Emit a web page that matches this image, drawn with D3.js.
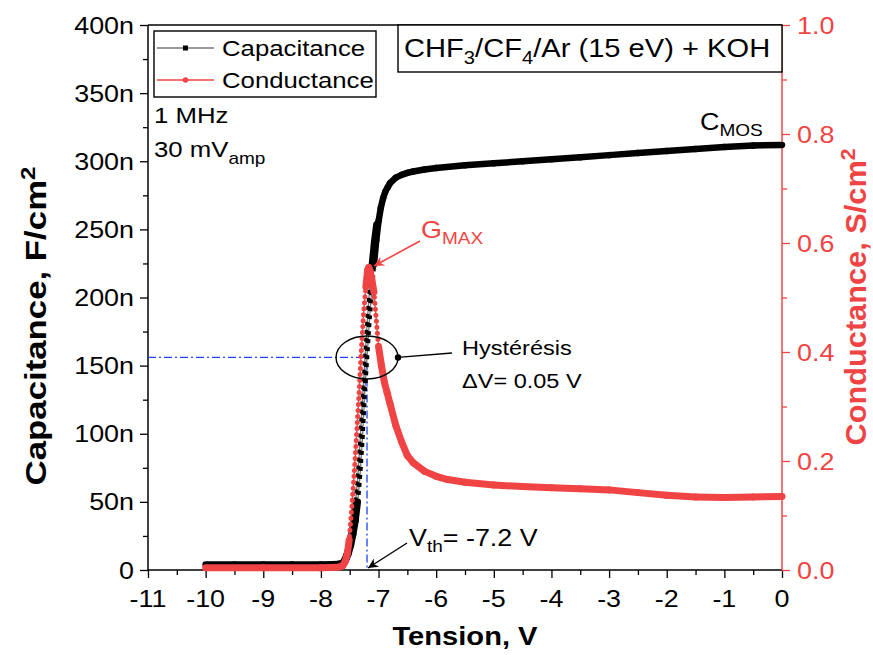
<!DOCTYPE html>
<html><head><meta charset="utf-8">
<script src="https://cdn.jsdelivr.net/npm/d3@7"></script>
<style>body{margin:0;background:#fff}svg{display:block}text{font-family:"Liberation Sans",Arial,sans-serif}</style>
</head><body>
<svg id="c" width="873" height="655"></svg>
<script>
// ---- data ----
const capV = [-10,-9.5,-9,-8.5,-8,-7.8,-7.7,-7.64,-7.6,-7.56,-7.52,-7.48,-7.44,-7.40,-7.36,-7.32,-7.28,-7.24,-7.20,-7.16,-7.12,-7.08,-7.04,-7.00,-6.96,-6.92,-6.88,-6.84,-6.8,-6.7,-6.6,-6.5,-6.4,-6.2,-6.0,-5.5,-5.0,-4.5,-4.0,-3.5,-3.0,-2.5,-2.0,-1.5,-1.0,-0.5,0];
const capC = [4,4,4,4,4,4.2,4.5,5,6,8,12,18,26,36,50,70,96,130,156,182,204,224,242,256,266,273,278,281,284,288,290,291.5,292.5,294,295,297,298.5,300,301.5,303,304.5,306,307.5,309,310.5,311.5,312];
const capRevV = [-7.64,-7.6,-7.56,-7.52,-7.48,-7.44,-7.40,-7.36,-7.32,-7.28,-7.24,-7.20,-7.16,-7.12,-7.08,-7.04];
const capRevC = [5,7,11,17,25,35,49,69,95,125,152,180,204,224,241,254];
const condV = [-10,-9,-8,-7.7,-7.62,-7.58,-7.54,-7.51,-7.46,-7.42,-7.38,-7.34,-7.30,-7.26,-7.22,-7.19,-7.17,-7.15,-7.12,-7.08,-7.04,-7.00,-6.95,-6.9,-6.85,-6.8,-6.7,-6.6,-6.5,-6.4,-6.2,-6.0,-5.8,-5.5,-5.0,-4.5,-4.0,-3.5,-3.0,-2.5,-2.0,-1.5,-1.0,-0.5,0];
const condG = [.004,.004,.004,.005,.008,.015,.03,.055,.12,.18,.25,.32,.40,.47,.52,.55,.555,.55,.535,.51,.46,.41,.375,.345,.325,.305,.265,.235,.21,.197,.181,.172,.166,.161,.156,.153,.151,.149,.147,.142,.137,.134,.133,.134,.135];
const xTicks = [-11,-10,-9,-8,-7,-6,-5,-4,-3,-2,-1,0];
const xTickLabels = ["-11","-10","-9","-8","-7","-6","-5","-4","-3","-2","-1","0"];
const yTicks = [0,50,100,150,200,250,300,350,400];
const yTickLabels = ["0","50n","100n","150n","200n","250n","300n","350n","400n"];
const y2Ticks = [0,0.2,0.4,0.6,0.8,1.0];
const y2TickLabels = ["0.0","0.2","0.4","0.6","0.8","1.0"];
const seriesNames = ["Capacitance","Conductance"];
const vth = -7.2, cAtVth = 156;

// ---- layout ----
const L = 148, R = 782, T = 25, B = 570;
const RED = "#f04444", BLUE = "#2244ff";
const SX = 1.12;
const svg = d3.select("#c");
const x = d3.scaleLinear().domain([-11,0]).range([L,R]);
const y = d3.scaleLinear().domain([0,400]).range([B,T]);
const y2 = d3.scaleLinear().domain([0,1]).range([B,T]);

function txt(parent, px, py, anchor, size, color, weight, rot, sx) {
  const g = parent.append("g").attr("transform", `translate(${px},${py})` + (rot ? ` rotate(${rot})` : "") + ` scale(${sx||SX},1)`);
  return g.append("text").attr("text-anchor", anchor||"start").attr("font-size", size).attr("fill", color||"#000").attr("font-weight", weight||"normal");
}

// axes
const gx = svg.append("g").attr("transform",`translate(0,${B})`).call(d3.axisBottom(x).tickValues(xTicks).tickFormat("").tickSize(8));
gx.select(".domain").remove();
const gxm = svg.append("g").attr("transform",`translate(0,${B})`).call(d3.axisBottom(x).tickValues(d3.range(-10.5,0,1)).tickFormat("").tickSize(5));
gxm.select(".domain").remove();
xTicks.forEach((v,i)=>{ txt(svg, x(v), 607, "middle", 24).text(xTickLabels[i]); });

const gy = svg.append("g").attr("transform",`translate(${L},0)`).call(d3.axisLeft(y).tickValues(yTicks).tickFormat("").tickSize(8));
gy.select(".domain").remove();
const gym = svg.append("g").attr("transform",`translate(${L},0)`).call(d3.axisLeft(y).tickValues(d3.range(25,400,50)).tickFormat("").tickSize(5));
gym.select(".domain").remove();
yTicks.forEach((v,i)=>{ txt(svg, 134, y(v)+8.5, "end", 24).text(yTickLabels[i]); });

const gy2 = svg.append("g").attr("transform",`translate(${R},0)`).call(d3.axisRight(y2).tickValues(y2Ticks).tickFormat("").tickSize(8));
const gy2m = svg.append("g").attr("transform",`translate(${R},0)`).call(d3.axisRight(y2).tickValues([0.1,0.3,0.5,0.7,0.9]).tickFormat("").tickSize(5));
[gy2,gy2m].forEach(g=>{g.select(".domain").remove(); g.selectAll("line").attr("stroke",RED);});
y2Ticks.forEach((v,i)=>{ txt(svg, 797, y2(v)+8.5, "start", 24, RED).text(y2TickLabels[i]); });
[gx,gxm,gy,gym].forEach(g=>g.selectAll("line").attr("stroke","#000").attr("stroke-width",1.3));
[gy2,gy2m].forEach(g=>g.selectAll("line").attr("stroke-width",1.3));

// frame
svg.append("line").attr("x1",L).attr("x2",R).attr("y1",T).attr("y2",T).attr("stroke","#000").attr("stroke-width",1.5);
svg.append("line").attr("x1",L).attr("x2",L).attr("y1",T).attr("y2",B).attr("stroke","#000").attr("stroke-width",1.5);
svg.append("line").attr("x1",L).attr("x2",R).attr("y1",B).attr("y2",B).attr("stroke","#000").attr("stroke-width",1.5);
svg.append("line").attr("x1",R).attr("x2",R).attr("y1",T).attr("y2",B).attr("stroke",RED).attr("stroke-width",1.5);

// axis titles
txt(svg, 465, 645, "middle", 26, "#000", "bold").text("Tension, V");
const lt = txt(svg, 46, 326, "middle", 29, "#000", "bold", -90, 1.2);
lt.append("tspan").text("Capacitance,  F/cm");
lt.append("tspan").attr("dy",-11).attr("font-size",20).text("2");
const rt = txt(svg, 866, 297, "middle", 29, RED, "bold", -90, 1.06);
rt.append("tspan").text("Conductance,  S/cm");
rt.append("tspan").attr("dy",-11).attr("font-size",20).text("2");

// blue dash-dot guide lines
svg.append("path").attr("d",`M${L},${y(cAtVth)}H${x(vth)}V${B}`).attr("fill","none").attr("stroke",BLUE).attr("stroke-width",1.3).attr("stroke-dasharray","8,3,2,3");

// series drawing
function drawSeries(V, Y, ys, lineColor, markColor, mw, dash, cap, stepThresh) {
  const pts = V.map((v,i)=>[x(v), ys(Y[i]), v]);
  const line = d3.line().x(d=>d[0]).y(d=>d[1]);
  svg.append("path").datum(pts).attr("d",line).attr("fill","none").attr("stroke",lineColor).attr("stroke-width",1.3);
  svg.append("path").datum(pts).attr("d",line).attr("fill","none").attr("stroke",markColor).attr("stroke-width",mw).attr("stroke-dasharray",dash).attr("stroke-linecap",cap);
  for (let i=0;i<pts.length-1;i++){
    const a=pts[i], b=pts[i+1];
    const len=Math.hypot(b[0]-a[0],b[1]-a[1]);
    const steps=Math.abs(b[2]-a[2])/0.01;
    if (len/steps < stepThresh) {
      svg.append("path").datum([a,b]).attr("d",line).attr("fill","none").attr("stroke",markColor).attr("stroke-width",mw+2).attr("stroke-linecap","round");
    }
  }
}
drawSeries(capRevV, capRevC, y, "#777", "#000", 4, "4,4", "butt", 6.5);
drawSeries(capV, capC, y, "#777", "#000", 4.5, "4,4", "butt", 6.5);
drawSeries(condV, condG, y2, RED, RED, 5, "0,6", "round", 6);

// ellipse (hysteresis)
svg.append("ellipse").attr("cx",x(-7.2)).attr("cy",y(cAtVth)).attr("rx",31).attr("ry",21.5).attr("fill","none").attr("stroke","#000").attr("stroke-width",1.4);
svg.append("circle").attr("cx",x(-7.2)+31).attr("cy",y(cAtVth)).attr("r",3.2).attr("fill","#000");
svg.append("line").attr("x1",x(-7.2)+31).attr("y1",y(cAtVth)).attr("x2",452).attr("y2",353).attr("stroke","#000").attr("stroke-width",1.3);
txt(svg, 462, 355, "start", 21).text("Hystérésis");
txt(svg, 462, 388, "start", 21).text("\u0394V= 0.05 V");

// arrows
const defs = svg.append("defs");
function marker(id,color){
  defs.append("marker").attr("id",id).attr("viewBox","0 0 10 10").attr("refX",10).attr("refY",5).attr("markerWidth",14).attr("markerHeight",10).attr("markerUnits","userSpaceOnUse").attr("orient","auto")
    .append("path").attr("d","M0,0L10,5L0,10L3,5Z").attr("fill",color);
}
marker("ar",RED); marker("ak","#000");
svg.append("line").attr("x1",420).attr("y1",241).attr("x2",374).attr("y2",266).attr("stroke",RED).attr("stroke-width",1.6).attr("marker-end","url(#ar)");
svg.append("line").attr("x1",407).attr("y1",543).attr("x2",x(vth)+1).attr("y2",B-2).attr("stroke","#000").attr("stroke-width",1.4).attr("marker-end","url(#ak)");

// annotations
const gm = txt(svg, 421, 238, "start", 24, RED);
gm.append("tspan").text("G"); gm.append("tspan").attr("font-size",17).attr("dy",6).text("MAX");
const cm = txt(svg, 700, 130, "start", 24);
cm.append("tspan").text("C"); cm.append("tspan").attr("font-size",17).attr("dy",6).text("MOS");
const vt = txt(svg, 409, 546, "start", 24);
vt.append("tspan").text("V"); vt.append("tspan").attr("font-size",17).attr("dy",6).text("th"); vt.append("tspan").attr("dy",-6).text("= -7.2 V");
txt(svg, 154, 123, "start", 23).text("1 MHz");
const mv = txt(svg, 154, 157, "start", 23);
mv.append("tspan").text("30 mV"); mv.append("tspan").attr("font-size",17).attr("dy",7).text("amp");

// title box
svg.append("rect").attr("x",398).attr("y",25).attr("width",R-398).attr("height",47).attr("fill","#fff").attr("stroke","#000").attr("stroke-width",1.4);
const tt = txt(svg, 404, 57, "start", 26);
tt.append("tspan").text("CHF");
tt.append("tspan").attr("font-size",18).attr("dy",7).text("3");
tt.append("tspan").attr("dy",-7).text("/CF");
tt.append("tspan").attr("font-size",18).attr("dy",7).text("4");
tt.append("tspan").attr("dy",-7).text("/Ar (15 eV) + KOH");

// legend
svg.append("rect").attr("x",154).attr("y",31).attr("width",222).attr("height",66).attr("fill","#fff").attr("stroke","#000").attr("stroke-width",1.4);
const legRows = [{n:seriesNames[0], line:"#777", mark:"#000", y:48, sq:true},{n:seriesNames[1], line:RED, mark:RED, y:80, sq:false}];
legRows.forEach(r=>{
  svg.append("line").attr("x1",157).attr("x2",214).attr("y1",r.y).attr("y2",r.y).attr("stroke",r.line).attr("stroke-width",1.5);
  if (r.sq) svg.append("rect").attr("x",183).attr("y",r.y-2.5).attr("width",5).attr("height",5).attr("fill",r.mark);
  else svg.append("circle").attr("cx",185.5).attr("cy",r.y).attr("r",2.8).attr("fill",r.mark);
  txt(svg, 222, r.y+8, "start", 23).text(r.n);
});
</script>
</body></html>
